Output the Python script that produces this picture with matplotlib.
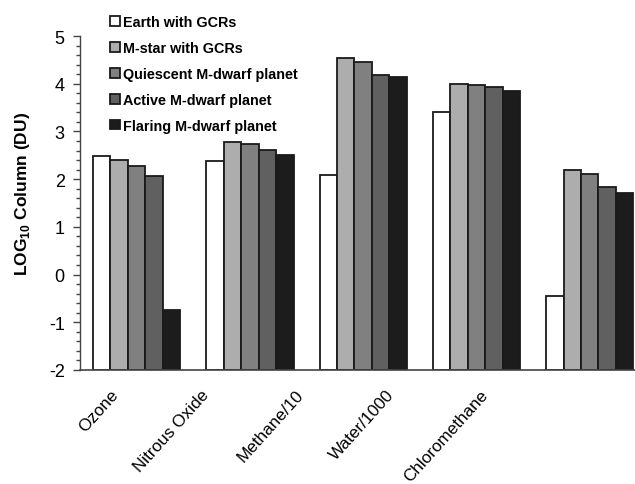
import numpy as np
import matplotlib.pyplot as plt
from matplotlib.ticker import MultipleLocator

plt.rcParams['font.family'] = ['Liberation Sans', 'DejaVu Sans']
plt.rcParams['mathtext.fontset'] = 'custom'
plt.rcParams['mathtext.rm'] = 'Liberation Sans'
plt.rcParams['mathtext.bf'] = 'Liberation Sans:bold'
plt.rcParams['axes.unicode_minus'] = False

# data (log10 column, DU)
gases = ['Ozone', 'Nitrous Oxide', 'Methane/10', 'Water/1000', 'Chloromethane']
series_names = ['Earth with GCRs', 'M-star with GCRs', 'Quiescent M-dwarf planet',
                'Active M-dwarf planet', 'Flaring M-dwarf planet']
earth_gcr = [2.48, 2.37, 2.09, 3.40, -0.44]
mstar_gcr = [2.40, 2.78, 4.53, 3.99, 2.20]
quiescent = [2.27, 2.74, 4.45, 3.97, 2.10]
active = [2.06, 2.61, 4.19, 3.93, 1.84]
flaring = [-0.75, 2.51, 4.15, 3.85, 1.72]

values = [earth_gcr, mstar_gcr, quiescent, active, flaring]
colors = ['#ffffff', '#adadad', '#808080', '#606060', '#1c1c1c']

fig = plt.figure(figsize=(6.35, 4.85), dpi=100)
ax = fig.add_axes([80/635, 114/485, 555/635, 334/485])

x = np.arange(len(gases))
w = 0.154
for k, (vals, name, c) in enumerate(zip(values, series_names, colors)):
    # bars rise from the bottom of the axis (-2), as in the original
    heights = [v + 2 for v in vals]
    ax.bar(x + (k - 2) * w, heights, width=w, bottom=-2, color=c,
           edgecolor='#1a1a1a', linewidth=1.3, label=name, zorder=2)

ax.set_xlim(-0.5, 4.4)
ax.set_ylim(-2, 5)
ax.yaxis.set_major_locator(MultipleLocator(1))
ax.yaxis.set_minor_locator(MultipleLocator(0.2))
ax.tick_params(axis='y', which='major', direction='out', length=5, width=1,
               labelsize=13, pad=6, color='#444444')
ax.tick_params(axis='y', which='minor', direction='out', length=3, width=1,
               color='#444444')

label_pos = [-0.23, 0.57, 1.40, 2.20, 3.03]
ax.set_xticks(label_pos)
ax.set_xticklabels(gases, rotation=48, ha='right', va='top',
                   rotation_mode='anchor', fontsize=12.3)
ax.tick_params(axis='x', length=0, pad=12)

for s in ['top', 'right']:
    ax.spines[s].set_visible(False)
ax.spines['left'].set_color('#444444')
ax.spines['bottom'].set_color('#444444')
ax.spines['left'].set_linewidth(1)
ax.spines['bottom'].set_linewidth(1.2)

ax.set_ylabel(r'LOG$_{\mathbf{10}}$ Column (DU)', fontsize=12.5,
              fontweight='bold')
ax.yaxis.set_label_coords(-0.087, 0.53)

fig.legend(loc='upper left', bbox_to_anchor=(103/635, 1 - 9/485),
           frameon=False, handlelength=0.65, handleheight=0.65,
           handletextpad=0.2, labelspacing=0.82, borderpad=0,
           prop={'weight': 'bold', 'size': 10.4})

fig.savefig('out.png', dpi=100)
